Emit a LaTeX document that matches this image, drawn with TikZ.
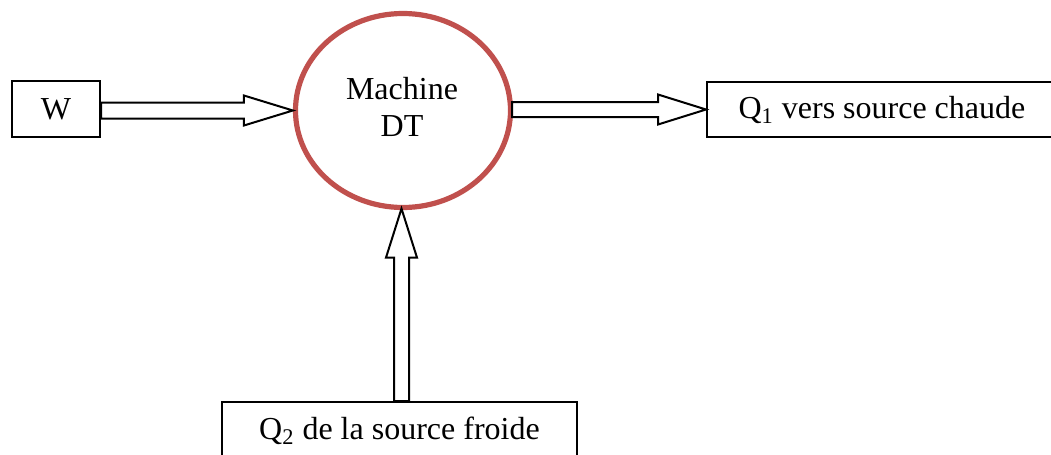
\documentclass[tikz,border=0pt]{standalone}
\usepackage{fontspec}
\setmainfont{Liberation Serif}
\usetikzlibrary{shapes.geometric,calc}
\definecolor{mred}{RGB}{192,80,77}
\begin{document}
\begin{tikzpicture}[x=0.5pt,y=-0.5pt,
  every node/.style={font=\fontsize{16}{18.5}\selectfont},
  boxnode/.style={draw=black,line width=1pt,rectangle,inner sep=0pt,fill=white},
  machnode/.style={draw=mred,line width=2.6pt,ellipse,inner sep=0pt,
    minimum width=107.5pt,minimum height=97pt,align=center},
  blk/.style={draw=black,line width=1pt,fill=white,line join=miter}]
\useasboundingbox (0,0) rectangle (1051,455);
\clip (0,0) rectangle (1051,455);
\node[boxnode,minimum width=44pt,minimum height=28pt] (W) at (56,109) {W};
\node[machnode] (M) at (403,110.5) {};
\node[align=center,inner sep=0pt] (Mt) at (402,106.5) {Machine\\DT};
\node[boxnode,minimum width=175pt,minimum height=27.5pt] (Q1) at (882,109.5) {Q\textsubscript{1} vers source chaude};
\node[boxnode,minimum width=177.5pt,minimum height=28.5pt] (Q2) at (399.5,430.5) {Q\textsubscript{2} de la source froide};
% W -> machine
\draw[blk] ($(W.east |- M.west)+(0,-8)$) -- ($(M.west)+(-49,-8)$) -- ($(M.west)+(-49,-15)$)
  -- (M.west) -- ($(M.west)+(-49,15)$) -- ($(M.west)+(-49,8)$) -- ($(W.east |- M.west)+(0,8)$) -- cycle;
% machine -> Q1
\draw[blk] ($(M.east |- Q1.west)+(-1,-7.5)$) -- ($(Q1.west)+(-48,-7.5)$) -- ($(Q1.west)+(-48,-15)$)
  -- (Q1.west) -- ($(Q1.west)+(-48,15)$) -- ($(Q1.west)+(-48,7.5)$) -- ($(M.east |- Q1.west)+(-1,7.5)$) -- cycle;
% Q2 -> machine
\coordinate (T) at ($(M.south)+(-1.5,-1.5)$);
\draw[blk] ($(T |- Q2.north)+(-7.5,0)$) -- ($(T)+(-7.5,49)$) -- ($(T)+(-15.5,49)$)
  -- (T) -- ($(T)+(15.5,49)$) -- ($(T)+(7.5,49)$) -- ($(T |- Q2.north)+(7.5,0)$) -- cycle;
\end{tikzpicture}
\end{document}
